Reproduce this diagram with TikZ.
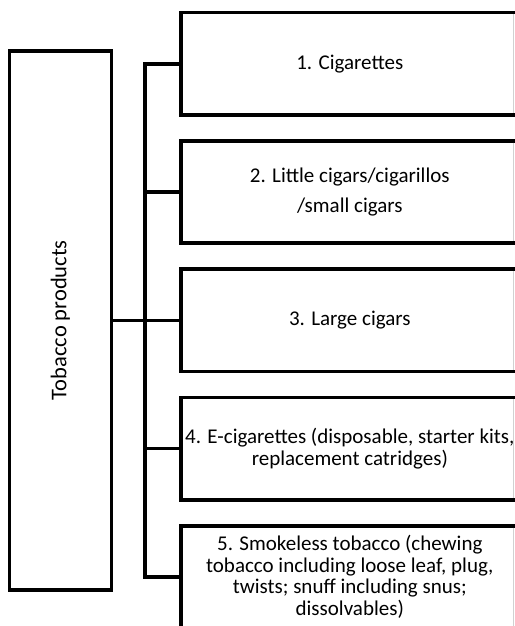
\documentclass[tikz,border=0pt]{standalone}
\usepackage{fontspec}
\setmainfont{Carlito}

\tikzset{
  catbox/.style={draw, line width=3.6pt, anchor=west, minimum width=338pt,
    minimum height=102.5pt, inner sep=0pt, align=center,
    font=\fontsize{21}{21.5}\selectfont},
  link/.style={line width=3.6pt},
  rimline/.style={draw=black!18, line width=0.9pt}
}

\begin{document}
\begin{tikzpicture}[x=1pt,y=-1pt]
  \useasboundingbox (0,0) rectangle (514,626);

  % left box
  \node[draw, line width=3.6pt, minimum width=102pt, minimum height=539pt] (products) at (60.5,320.3) {};
    \node[rotate=90, font=\fontsize{22.5}{24}\selectfont] (productslabel) at (products) {Tobacco products};

  % categories
  \node[catbox] (cig) at (179,63.75) {1. Cigarettes};
  \node[catbox, font=\fontsize{21}{30}\selectfont] (little) at (179,192) {2. Little cigars/cigarillos\\/small cigars};
  \node[catbox] (large) at (179,320.3) {3. Large cigars};
  \node[catbox] (ecig) at (179,448.6) {4. E-cigarettes (disposable, starter kits,\\replacement catridges)};
  \node[catbox] (smokeless) at (179,577) {5. Smokeless tobacco (chewing\\tobacco including loose leaf, plug,\\twists; snuff including snus;\\dissolvables)};

  % cut right edge
  \coordinate (rim) at (513,0);
  \foreach \b in {cig,little,large,ecig,smokeless}
    \draw[rimline] ([yshift=-3.6pt]\b.north -| rim) -- ([yshift=3.6pt]\b.south -| rim);

  % connectors
  \coordinate (spine) at (145,0);
  \draw[link] (cig.west) -- (cig.west -| spine) -- (smokeless.west -| spine) -- (smokeless.west);
  \foreach \b in {little,large,ecig}
    \draw[link] (\b.west -| spine) -- (\b.west);
  \draw[link] (products.east) -- (large.west);
\end{tikzpicture}
\end{document}
